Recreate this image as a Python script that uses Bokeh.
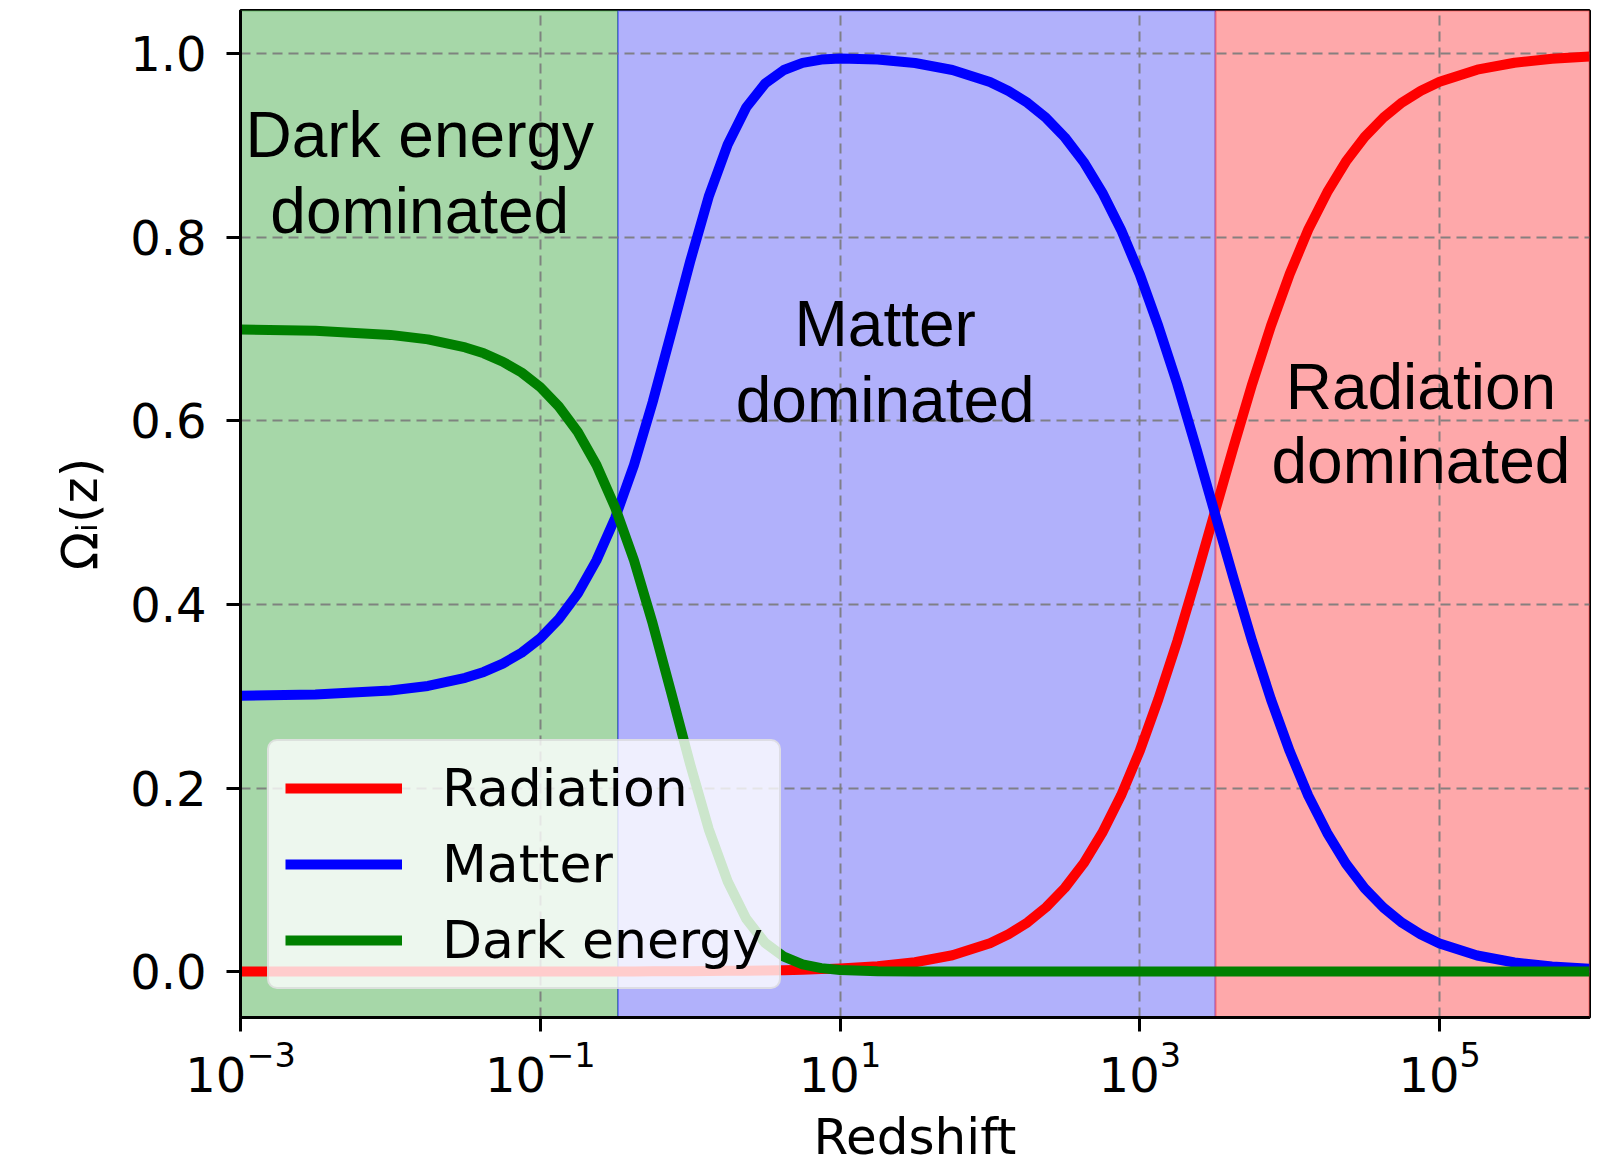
from bokeh.plotting import figure
from bokeh.models import (Range1d, FixedTicker, NumeralTickFormatter, BoxAnnotation,
                          Label, Legend, LegendItem)
from bokeh.embed import file_html
from bokeh.resources import INLINE

# Density parameters of each component against redshift
redshift = [0.001, 0.00316, 0.01, 0.0178, 0.0316, 0.042, 0.0562, 0.075, 0.1, 0.133, 0.178, 0.237,
            0.316, 0.422, 0.562, 0.750, 1.0, 1.33, 1.78, 2.37, 3.16, 4.22,
            5.62, 7.50, 10, 17.8, 31.6, 56.2, 100, 133, 178, 237,
            316, 422, 562, 750, 1000, 1330, 1780, 2370, 3160, 4220,
            5620, 7500, 10000, 13300, 17800, 23700, 31600, 42200, 56200, 75000,
            100000, 178000, 316000, 562000, 1000000]

omega_radiation = [0.0001, 0.0001, 0.0001, 0.0001, 0.0001, 0.0001, 0.0001, 0.0001, 0.0001, 0.0001, 0.0002, 0.0002,
                   0.0002, 0.0002, 0.0003, 0.0004, 0.0005, 0.0006, 0.0008, 0.0010, 0.0013, 0.0016,
                   0.0021, 0.0027, 0.0035, 0.0059, 0.0102, 0.0178, 0.0310, 0.0407, 0.0535, 0.0701,
                   0.0912, 0.1180, 0.1513, 0.1920, 0.2406, 0.2969, 0.3602, 0.4288, 0.5002, 0.5717,
                   0.6402, 0.7036, 0.7599, 0.8084, 0.8491, 0.8824, 0.9092, 0.9303, 0.9468, 0.9596,
                   0.9694, 0.9825, 0.9901, 0.9944, 0.9969]

omega_matter = [0.3006, 0.3019, 0.3063, 0.3112, 0.3200, 0.3265, 0.3355, 0.3474, 0.3632, 0.3842, 0.4119, 0.4480,
                0.4942, 0.5519, 0.6204, 0.6966, 0.7737, 0.8443, 0.9011, 0.9416, 0.9674, 0.9822,
                0.9900, 0.9935, 0.9948, 0.9937, 0.9898, 0.9822, 0.9690, 0.9593, 0.9465, 0.9299,
                0.9088, 0.8820, 0.8487, 0.8080, 0.7594, 0.7031, 0.6398, 0.5712, 0.4998, 0.4283,
                0.3598, 0.2964, 0.2401, 0.1916, 0.1509, 0.1176, 0.0908, 0.0697, 0.0532, 0.0404,
                0.0306, 0.0175, 0.0099, 0.0056, 0.0031]

omega_dark_energy = [0.6994, 0.6980, 0.6936, 0.6887, 0.6799, 0.6735, 0.6644, 0.6526, 0.6367, 0.6157, 0.5879, 0.5518,
                     0.5056, 0.4479, 0.3793, 0.3030, 0.2258, 0.1551, 0.0981, 0.0574, 0.0313, 0.0162,
                     0.0079, 0.0038, 0.0017, 0.0004, 0.0001, 0.0, 0.0, 0.0, 0.0, 0.0,
                     0.0, 0.0, 0.0, 0.0, 0.0, 0.0, 0.0, 0.0, 0.0, 0.0,
                     0.0, 0.0, 0.0, 0.0, 0.0, 0.0, 0.0, 0.0, 0.0, 0.0,
                     0.0, 0.0, 0.0, 0.0, 0.0]

series_names = ["Radiation", "Matter", "Dark energy"]

# Redshift boundaries of the three eras
era_edges = [0.001, 0.33, 3200, 1000000]
era_titles = [["Dark energy", "dominated"], ["Matter", "dominated"], ["Radiation", "dominated"]]

x_ticks = [0.001, 0.1, 10, 1000, 100000]
y_ticks = [0.0, 0.2, 0.4, 0.6, 0.8, 1.0]

TICK_FONT = "DejaVu Sans"
NOTE_FONT = "Liberation Sans"

p = figure(width=1619, height=1171, x_axis_type="log",
           x_range=Range1d(era_edges[0], era_edges[-1]), y_range=Range1d(-0.05, 1.047),
           output_backend="svg", toolbar_location=None,
           min_border_left=240, min_border_right=30, min_border_top=10, min_border_bottom=154)
p.background_fill_color = "white"
p.border_fill_color = "white"
p.outline_line_color = "black"
p.outline_line_width = 3

# shaded eras
era_fill = ["#a6d7a8", "#b1b1fb", "#fea8aa"]
era_line = ["green", "blue", "red"]
for left, right, fill, edge in zip(era_edges[:-1], era_edges[1:], era_fill, era_line):
    p.add_layout(BoxAnnotation(left=left, right=right, fill_color=fill, fill_alpha=1.0,
                               line_color=edge, line_alpha=0.35, line_width=2, level="image"))

# grid
for g in (p.xgrid, p.ygrid):
    g.grid_line_color = "#7a7a7a"
    g.grid_line_dash = "10 6"
    g.grid_line_width = 2
    g.grid_line_alpha = 0.9

# curves
colors = ["red", "blue", "green"]
renderers = []
for ys, c in zip([omega_radiation, omega_matter, omega_dark_energy], colors):
    renderers.append(p.line(redshift, ys, line_color=c, line_width=10, line_join="round"))

# axes
p.xaxis.ticker = FixedTicker(ticks=x_ticks, minor_ticks=[])
p.yaxis.ticker = FixedTicker(ticks=y_ticks, minor_ticks=[])
p.yaxis.formatter = NumeralTickFormatter(format="0.0")
p.xaxis.axis_label = "Redshift"
p.yaxis.axis_label = "Ωᵢ(z)"
for ax in (p.xaxis[0], p.yaxis[0]):
    ax.major_label_text_font = TICK_FONT
    ax.major_label_text_font_size = "48px"
    ax.major_label_text_color = "black"
    ax.axis_label_text_font = TICK_FONT
    ax.axis_label_text_font_size = "50px"
    ax.axis_label_text_font_style = "normal"
    ax.axis_label_text_color = "black"
    ax.axis_line_color = "black"
    ax.axis_line_width = 3
    ax.major_tick_out = 14
    ax.major_tick_in = 0
    ax.major_tick_line_width = 3
    ax.major_tick_line_color = "black"
    ax.minor_tick_out = 0
    ax.minor_tick_in = 0
p.xaxis.major_label_standoff = 9
p.xaxis.axis_label_standoff = 13
p.yaxis.major_label_standoff = 20
p.yaxis.axis_label_standoff = 18

# era annotations
title_pos = [(0.0157, 0.911, 0.829), (20.0, 0.705, 0.623), (75000, 0.637, 0.556)]
for (xc, y1, y2), lines in zip(title_pos, era_titles):
    for yy, txt in zip((y1, y2), lines):
        p.add_layout(Label(x=xc, y=yy, text=txt, text_align="center", text_baseline="alphabetic",
                           text_font=NOTE_FONT, text_font_size="64px", text_color="black"))

legend = Legend(items=[LegendItem(label=n, renderers=[r]) for n, r in zip(series_names, renderers)],
                location=(27, 28), margin=0, padding=16, spacing=14,
                glyph_width=117, glyph_height=62, label_height=62, label_standoff=40,
                label_text_font=TICK_FONT, label_text_font_size="52px", label_text_color="black",
                background_fill_color="white", background_fill_alpha=0.8,
                border_line_color="#cccccc", border_line_width=2, border_radius=10)
p.add_layout(legend)

open("out.html", "w").write(file_html(p, INLINE))
